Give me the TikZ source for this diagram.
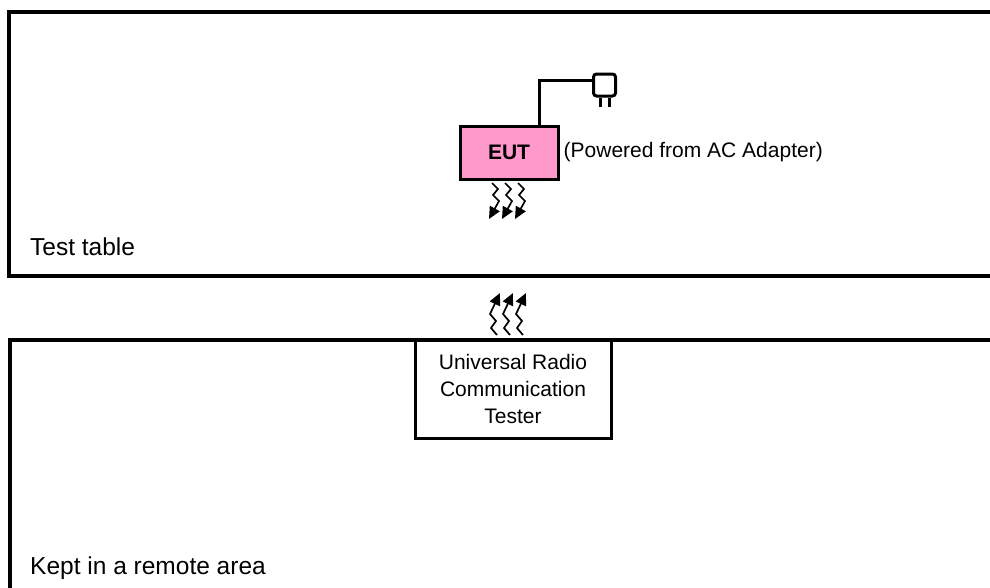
\documentclass[tikz,border=0pt]{standalone}
\usepackage{fontspec}
\setmainfont{Liberation Sans}
\usepackage{xcolor}
\usetikzlibrary{
    arrows.meta,
    calc,
    positioning
}
\definecolor{eutpink}{RGB}{255,153,204}

\begin{document}
\begin{tikzpicture}[x=1pt, y=-1pt,
    area/.style={line width=4pt},
    unit/.style={draw, line width=3pt, inner sep=0pt},
    wave/.style={line width=1.7pt, -{Triangle[length=12pt, width=11pt]}},
    label/.style={anchor=west, inner sep=0pt, font=\fontsize{24.5}{28}\selectfont}]
    \useasboundingbox (0,0) rectangle (990,587);
    \clip (0,0) rectangle (990,587);
    % areas
    \draw[area] (995,12) -- (9,12) -- (9,276) -- (995,276);
    \draw[area] (995,340) -- (10,340) -- (10,595);
    \node[label] (table) at (30,247) {Test table};
    \node[label] (remote) at (30,568) {Kept in a remote area};
    % EUT and adapter
    \node[unit, fill=eutpink, minimum width=98, minimum height=53,
          font=\fontsize{21}{25}\selectfont\bfseries] (eut) at (509,152.5) {EUT};
    \node[label, font=\fontsize{21}{25}\selectfont, right=4 of eut] (power) {(Powered from AC Adapter)};
    \node[draw, line width=3pt, rounded corners=3pt, minimum width=22, minimum height=22,
          inner sep=0pt] (plug) at (604.5,85) {};
    \coordinate (bend) at (539,80);
    \draw[line width=3pt] (eut.north -| bend) -- (bend) -- (bend -| plug.west);
    \draw[line width=3pt] ([xshift=-4.5]plug.south) -- ++(0,9)
                          ([xshift=4.5]plug.south) -- ++(0,9);
    % tester
    \node[unit, minimum width=196, minimum height=98, align=center,
          font=\fontsize{21}{27}\selectfont] (tester) at (513,389)
          {Universal Radio\\Communication\\Tester};
    % radio waves
    \foreach \dx in {0,13,26} {
        \draw[wave] (492+\dx,183) -- (498+\dx,189) -- (493+\dx,195)
                    -- (499+\dx,201) -- (489+\dx,219);
        \draw[wave] (497+\dx,335) -- (491+\dx,328) -- (496+\dx,321)
                    -- (490+\dx,314) -- (500+\dx,293);
    }
\end{tikzpicture}
\end{document}
